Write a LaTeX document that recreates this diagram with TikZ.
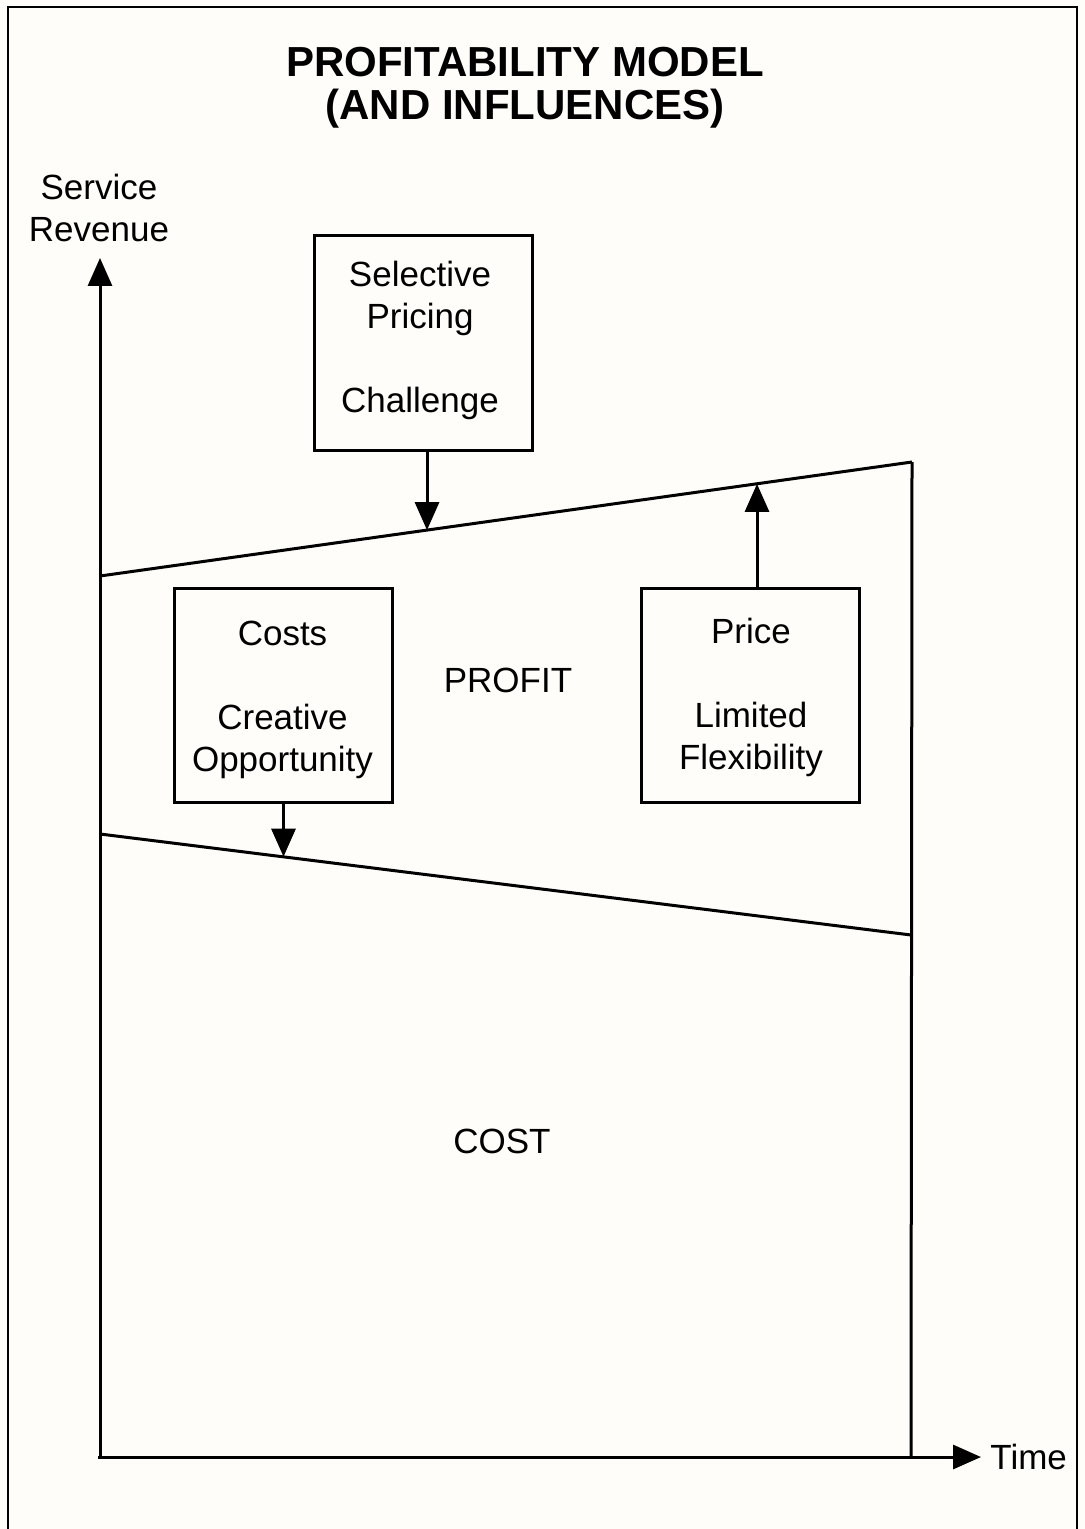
\documentclass[tikz,border=0pt]{standalone}
\usepackage{fontspec}
\setmainfont{Liberation Sans}
\usetikzlibrary{arrows.meta,calc}
\begin{document}
\begin{tikzpicture}[x=0.5pt,y=-0.5pt,
  ln/.style={line width=1.5pt},
  arr/.style={ln,-{Triangle[width=12pt,length=14pt]}},
  lbl/.style={font=\fontsize{17.5}{21}\selectfont,align=center,inner sep=0pt},
  infobox/.style={draw,ln,minimum width=109pt,minimum height=107pt,inner sep=0pt},
  ttl/.style={font=\bfseries\fontsize{21}{21.5}\selectfont,align=center,inner sep=0pt}]
\useasboundingbox[fill={rgb,255:red,254;green,253;blue,250}] (0,0) rectangle (1085,1529);
% frame
\draw[line width=0.75pt] (8,1529) -- (8,7) -- (1077,7) -- (1077,1529);
% title
\node[ttl] (title) at (525,88) {PROFITABILITY MODEL\\(AND INFLUENCES)};
% axes
\coordinate (O) at (100,1457);
\coordinate (ytip) at (100,258);
\coordinate (xtip) at (981,1457);
\draw[arr] (O) -- (ytip);
\draw[arr] ($(O)+(-2,0)$) -- (xtip);
\node[lbl] (ylab) at (99,208) {Service\\Revenue};
\node[lbl,anchor=west] (xlab) at (990,1457) {Time};
% region lines
\coordinate (ul) at (100,576);
\coordinate (ur) at (912,462);
\coordinate (ll) at (100,834);
\coordinate (lr) at (911,935);
\coordinate (br) at (911,1457);
\draw[ln] (ul) -- (ur);
\draw[ln] (ll) -- (lr);
\draw[ln] (br) -- (ur);
% boxes
\node[infobox] (sel) at (423,343) {};
\node[infobox] (cst) at (283.5,695.5) {};
\node[infobox] (prc) at (750,695.5) {};
\node[lbl] (seltxt) at ($(sel.center)+(-3,-3)$) {Selective\\Pricing\\[21pt]Challenge};
\node[lbl] (csttxt) at ($(cst.center)+(-1,4)$) {Costs\\[21pt]Creative\\Opportunity};
\node[lbl] (prctxt) at ($(prc.center)+(1,2)$) {Price\\[21pt]Limited\\Flexibility};
% influence arrows
\coordinate (s1) at ($(sel.south)+(4,0)$);
\coordinate (s3) at ($(prc.north)+(7,0)$);
\coordinate (t1) at ($(ul)!0.4022!(ur)$);
\coordinate (t2) at ($(ll)!0.2244!(lr)$);
\coordinate (t3) at ($(ul)!0.8081!(ur)$);
\draw[arr] (s1) -- (s1 |- t1);
\draw[arr] (cst.south) -- (cst.south |- t2);
\draw[arr] (s3) -- (s3 |- t3);
% region labels
\node[lbl] (profit) at (508,680) {PROFIT};
\node[lbl] (cost) at (502,1141) {COST};
\end{tikzpicture}
\end{document}
